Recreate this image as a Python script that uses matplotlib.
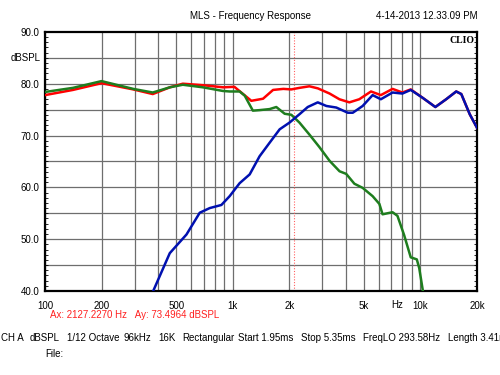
import numpy as np
import matplotlib
matplotlib.use("Agg")
import matplotlib.pyplot as plt
from matplotlib.ticker import FixedLocator, NullFormatter

plt.rcParams["font.family"] = ["Liberation Sans", "DejaVu Sans"]

# curva total (rojo)
freq_rojo = [100, 141, 200, 295, 375, 462, 542, 700, 890, 1020, 1110, 1256, 1450,
             1640, 1860, 2050, 2270, 2560, 2840, 3280, 3700, 4180, 4720, 5450,
             6150, 7100, 8010, 8870, 10250, 12000, 13700, 15500, 16500, 18300, 20000]
db_rojo = [77.8, 78.8, 80.1, 78.9, 78.0, 79.3, 80.0, 79.7, 79.3, 79.4, 78.3, 76.7, 77.1,
           78.8, 79.0, 78.9, 79.2, 79.5, 79.1, 78.1, 77.0, 76.4, 77.0, 78.5,
           77.8, 79.0, 78.3, 78.9, 77.3, 75.5, 77.0, 78.5, 78.0, 74.1, 71.5]

# woofer (verde)
freq_verde = [100, 141, 200, 295, 375, 462, 542, 694, 886, 963, 1088, 1158, 1280, 1390,
              1571, 1706, 1891, 2052, 2266, 2559, 2890, 3283, 3706, 4020, 4445, 4920,
              5560, 6040, 6280, 7100, 7540, 8180, 8874, 9560, 9850, 10300, 10800]
db_verde = [78.4, 79.2, 80.5, 79.0, 78.3, 79.3, 79.8, 79.3, 78.6, 78.5, 78.5, 77.7, 74.8, 74.9,
            75.1, 75.5, 74.2, 74.0, 72.5, 70.2, 67.8, 65.1, 63.1, 62.6, 60.7, 59.9,
            58.3, 56.8, 54.8, 55.2, 54.5, 50.8, 46.5, 46.1, 44.4, 40.0, 37.0]

# tweeter (azul)
freq_azul = [360, 377, 462, 567, 667, 754, 870, 963, 1088, 1231, 1390, 1571, 1778, 2007,
             2266, 2509, 2837, 3154, 3560, 4100, 4360, 4920, 5560, 6150, 7100, 8011,
             8874, 10250, 12000, 13700, 15500, 16500, 18300, 20000]
db_azul = [38.5, 40.0, 47.3, 50.9, 55.1, 56.0, 56.6, 58.3, 60.8, 62.5, 66.0, 68.6, 71.2, 72.5,
           74.1, 75.5, 76.4, 75.7, 75.4, 74.4, 74.4, 75.7, 77.8, 77.0, 78.3, 78.1,
           78.8, 77.3, 75.5, 77.0, 78.5, 78.0, 74.1, 71.5]

cursor_f = 2127.2270
cursor_db = 73.4964

etiquetas_x = [100, 200, 500, 1000, 2000, 5000, 10000, 20000]
textos_x = ["100", "200", "500", "1k", "2k", "5k", "10k", "20k"]
rejilla_x = list(range(100, 1000, 100)) + list(range(1000, 10001, 1000)) + [20000]

# linea de estado de la medicion
estado = ["CH A", "dBSPL", "1/12 Octave", "96kHz", "16K", "Rectangular",
          "Start 1.95ms", "Stop 5.35ms", "FreqLO 293.58Hz", "Length 3.41ms"]
estado_px = [1, 30, 67, 124, 158, 182, 238, 301, 363, 448]

fs = 7

fig = plt.figure(figsize=(5, 3.75), dpi=100)
ax = fig.add_axes([0.09, 0.224, 0.864, 0.691])

ax.set_xscale("log")
ax.set_xlim(100, 20000)
ax.set_ylim(40, 90)

for f in rejilla_x:
    ax.axvline(f, color="#6e6e6e", lw=0.9, zorder=1)
for y in range(45, 90, 5):
    ax.axhline(y, color="#6e6e6e", lw=0.9, zorder=1)
ax.axvline(cursor_f, color="#ff6060", lw=0.8, ls=(0, (1, 1.5)), zorder=2)

ax.plot(freq_rojo, db_rojo, color="#ff0000", lw=1.8, zorder=3)
ax.plot(freq_verde, db_verde, color="#1e7d1e", lw=1.8, zorder=4)
ax.plot(freq_azul, db_azul, color="#0010b0", lw=1.8, zorder=5)

ax.xaxis.set_major_locator(FixedLocator(etiquetas_x))
ax.xaxis.set_minor_locator(FixedLocator([]))
ax.set_xticklabels(textos_x)
ax.xaxis.set_minor_formatter(NullFormatter())
ax.tick_params(axis="x", length=0, labelsize=fs, pad=7)
ax.text(7500, 38.3, "Hz", fontsize=fs, ha="center", va="top")

ax.set_yticks([40, 50, 60, 70, 80, 90])
ax.set_yticklabels(["40.0", "50.0", "60.0", "70.0", "80.0", "90.0"])
ax.set_yticks(range(40, 91), minor=True)
ax.tick_params(axis="y", which="major", length=0, labelsize=fs, pad=4)
ax.tick_params(axis="y", which="minor", length=2, direction="in", right=True, width=0.6)
ax.text(-0.009, 85, "dBSPL", fontsize=fs, ha="right", va="center",
        transform=ax.get_yaxis_transform())

for s in ax.spines.values():
    s.set_linewidth(1.6)
    s.set_color("black")

fig.text(0.5, 0.957, "MLS - Frequency Response", fontsize=fs, ha="center", va="center")
fig.text(0.956, 0.957, "4-14-2013 12.33.09 PM", fontsize=fs, ha="right", va="center")
ax.text(0.995, 0.985, "CLIO", transform=ax.transAxes, fontsize=fs, ha="right", va="top",
        family=["Liberation Serif", "DejaVu Serif"], fontweight="bold")

fig.text(0.1, 0.16, f"Ax: {cursor_f:.4f} Hz   Ay: {cursor_db:.4f} dBSPL", fontsize=fs,
         color="#ff2020", ha="left", va="center")
for txt, px in zip(estado, estado_px):
    fig.text(px / 500, 0.099, txt, fontsize=fs, ha="left", va="center")
fig.text(0.09, 0.056, "File:", fontsize=fs, ha="left", va="center")

fig.savefig("out.png", dpi=100)
